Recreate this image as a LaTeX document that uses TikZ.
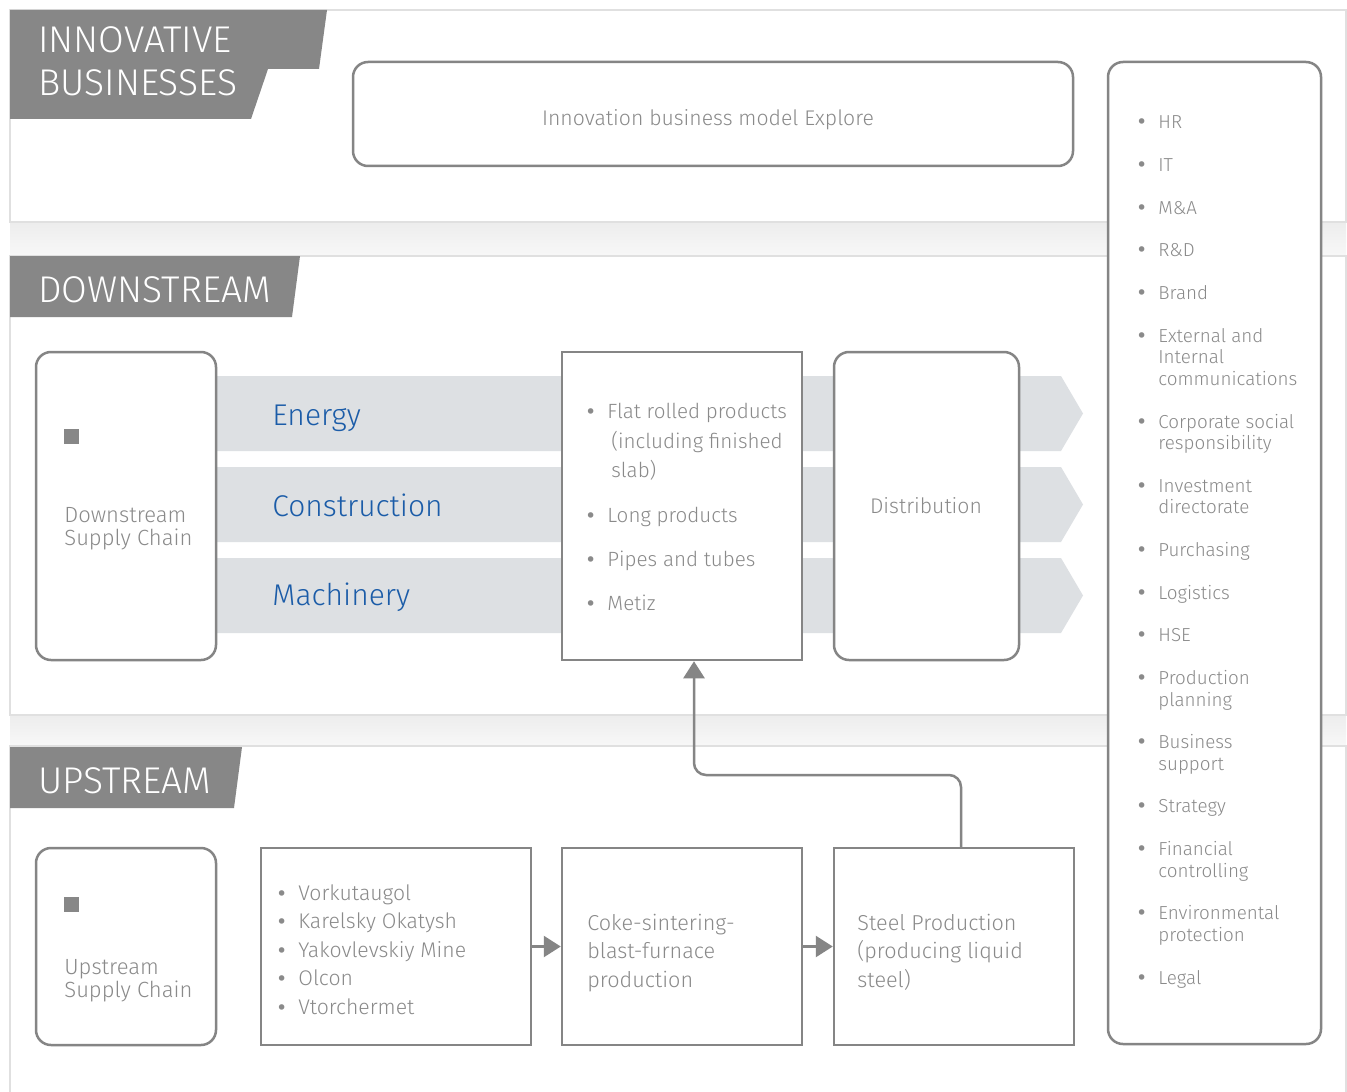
\documentclass[tikz,border=0pt]{standalone}
\usepackage{fontspec}
\setmainfont{Fira Sans Light}
\newfontfamily\dotfont{DejaVu Sans}
\usetikzlibrary{positioning}
\usetikzlibrary{calc}
\usetikzlibrary{arrows.meta}

\definecolor{boxgray}{HTML}{858585}
\definecolor{bannergray}{HTML}{878787}
\definecolor{textgray}{HTML}{8A8A8A}
\definecolor{bandgray}{HTML}{DDE0E3}
\definecolor{sectorblue}{HTML}{1B5CA8}
\definecolor{panelline}{HTML}{E0E0E0}

\newcommand{\bul}{\llap{{\dotfont\fontsize{9.5}{9.5}\selectfont\char"2022}\hspace{5.5pt}}}

\begin{document}
\begin{tikzpicture}[x=0.5pt, y=-0.5pt,
                    panel/.style={draw=panelline, line width=0.8pt, fill=white},
                    banner/.style={fill=bannergray},
                    bannertext/.style={text=white, anchor=base west, inner sep=0pt, align=left,
                                       font=\fontsize{18.6}{21.5}\selectfont},
                    roundbox/.style={draw=boxgray, line width=1.25pt, rounded corners=7.5pt, fill=white, inner sep=0pt},
                    sharpbox/.style={draw=boxgray, line width=1.25pt, fill=white, inner sep=0pt},
                    label/.style={text=textgray, anchor=base west, inner sep=0pt, align=left,
                                  font=\fontsize{10.6}{14.25}\selectfont},
                    sector/.style={text=sectorblue, anchor=base west, inner sep=0pt,
                                   font=\fontsize{15}{18}\selectfont},
                    band/.style={fill=bandgray},
                    chip/.style={fill=bannergray, minimum size=7.5pt, inner sep=0pt},
                    link/.style={draw=boxgray, line width=1.25pt, -{Triangle[length=8.5pt,width=10.5pt]}}]

    \useasboundingbox (0,0) rectangle (1347,1091);

    % panels
    \draw[panel] (10,10) rectangle (1346,222);
    \shade[top color=black!7, bottom color=black!3] (10,223) rectangle (1346,255);
    \draw[panel] (10,256) rectangle (1346,715);
    \shade[top color=black!7, bottom color=black!3] (10,716) rectangle (1346,745);
    \draw[panel] (10,1100) |- (1346,746) -- (1346,1100);

    % banners (multi-line texts sit on their last baseline)
    \fill[banner] (10,10) -- (327,10) -- (319,69) -- (268,69) -- (251,119) -- (10,119) -- cycle;
    \fill[banner] (10,256) -- (300,256) -- (292,317) -- (10,317) -- cycle;
    \fill[banner] (10,747) -- (242,747) -- (234,808) -- (10,808) -- cycle;
    \node[bannertext] (innovtitle) at (38,96) {INNOVATIVE\\BUSINESSES};
    \node[bannertext] (downtitle) at (38,302) {DOWNSTREAM};
    \node[bannertext] (uptitle) at (38,793) {UPSTREAM};

    % innovative businesses
    \node[roundbox, minimum width=360pt, minimum height=52pt] (innov) at (713,114) {};
    \node[label, anchor=base] (innovtext) at (708,126) {Innovation business model Explore};

    % support functions
    \node[roundbox, minimum width=106.5pt, minimum height=491pt] (support) at (1214.5,553) {};
    \node[label, font=\fontsize{9.4}{10.75}\selectfont] (supportlist) at (1158,984)
        {\bul HR\\[10.6pt]\bul IT\\[10.6pt]\bul M\&A\\[10.6pt]\bul R\&D\\[10.6pt]\bul Brand\\[10.6pt]
         \bul External and\\Internal\\communications\\[10.6pt]\bul Corporate social\\responsibility\\[10.6pt]
         \bul Investment\\directorate\\[10.6pt]\bul Purchasing\\[10.6pt]\bul Logistics\\[10.6pt]\bul HSE\\[10.6pt]
         \bul Production\\planning\\[10.6pt]\bul Business\\support\\[10.6pt]\bul Strategy\\[10.6pt]
         \bul Financial\\controlling\\[10.6pt]\bul Environmental\\protection\\[10.6pt]\bul Legal};

    % downstream
    \foreach \y in {376,467,558}
        \fill[band] (215,\y) -- (1061,\y) -- (1083,\y+37.5) -- (1061,\y+75) -- (215,\y+75) -- cycle;

    \node[roundbox, minimum width=90pt, minimum height=154pt] (dsc) at (126,506) {};
    \node[chip] (dscchip) at (71,436) {};
    \node[label, font=\fontsize{11}{11.5}\selectfont] (dsctext) at (64,545) {Downstream\\Supply Chain};

    \node[sector] (energy) at (272,425) {Energy};
    \node[sector] (constr) at (272,516) {Construction};
    \node[sector] (mach) at (272,605) {Machinery};

    \node[sharpbox, minimum width=120pt, minimum height=154pt] (prod) at (682,506) {};
    \node[label, font=\fontsize{10.3}{14.75}\selectfont] (prodlist) at (607,610)
        {\bul Flat rolled products\\\hspace{2pt}(including finished\\\hspace{2pt}slab)\\[7.5pt]
         \bul Long products\\[7.5pt]\bul Pipes and tubes\\[7pt]\bul Metiz};

    \node[roundbox, minimum width=92.5pt, minimum height=154pt] (dist) at (926.5,506) {};
    \node[label, anchor=base] (disttext) at (926,513) {Distribution};

    % upstream
    \node[roundbox, minimum width=90pt, minimum height=98.5pt] (usc) at (126,946.5) {};
    \node[chip] (uscchip) at (71,904) {};
    \node[label, font=\fontsize{11}{11.5}\selectfont] (usctext) at (64,997) {Upstream\\Supply Chain};

    \node[sharpbox, minimum width=135pt, minimum height=98.5pt] (mines) at (396,946.5) {};
    \node[label] (minelist) at (298,1014)
        {\bul Vorkutaugol\\\bul Karelsky Okatysh\\\bul Yakovlevskiy Mine\\\bul Olcon\\\bul Vtorchermet};

    \node[sharpbox, minimum width=120pt, minimum height=98.5pt] (coke) at (682,946.5) {};
    \node[label, font=\fontsize{10.8}{14.25}\selectfont] (coketext) at (587,987) {Coke-sintering-\\blast-furnace\\production};

    \node[sharpbox, minimum width=120pt, minimum height=98.5pt] (steel) at (954,946.5) {};
    \node[label, font=\fontsize{10.8}{14.25}\selectfont] (steeltext) at (857,987) {Steel Production\\(producing liquid\\steel)};

    % connectors
    \draw[link] (mines) -- (coke);
    \draw[link] (coke) -- (steel);
    \coordinate (riser) at (961,0);
    \coordinate (drop) at (694,0);
    \draw[link, rounded corners=6pt] (steel.north -| riser) -- (961,775) -| (prod.south -| drop);

\end{tikzpicture}
\end{document}
